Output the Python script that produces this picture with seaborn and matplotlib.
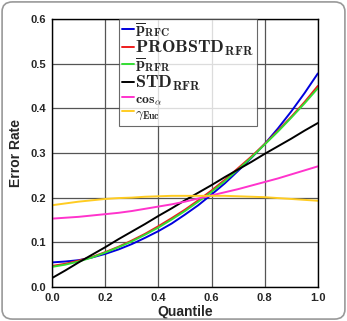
import numpy as np
import pandas as pd
import matplotlib
matplotlib.use("Agg")
import matplotlib.pyplot as plt
import seaborn as sns
from matplotlib.patches import FancyBboxPatch

quantile = [0.0, 0.05, 0.1, 0.15, 0.2, 0.25, 0.3, 0.35, 0.4, 0.45, 0.5,
            0.55, 0.6, 0.65, 0.7, 0.75, 0.8, 0.85, 0.9, 0.95, 1.0]
p_rfc = [0.055, 0.057, 0.060, 0.066, 0.074, 0.084, 0.096, 0.110, 0.125, 0.142, 0.162,
         0.183, 0.207, 0.232, 0.260, 0.289, 0.320, 0.355, 0.393, 0.434, 0.478]
probstd_rfr = [0.047, 0.052, 0.059, 0.067, 0.078, 0.090, 0.104, 0.119, 0.136, 0.154, 0.173,
               0.194, 0.216, 0.240, 0.266, 0.292, 0.320, 0.350, 0.381, 0.414, 0.450]
p_rfr = [0.045, 0.050, 0.057, 0.066, 0.077, 0.089, 0.102, 0.117, 0.133, 0.151, 0.170,
         0.191, 0.213, 0.237, 0.263, 0.290, 0.319, 0.348, 0.379, 0.411, 0.445]
std_rfr = [0.020, 0.037, 0.055, 0.072, 0.089, 0.107, 0.124, 0.141, 0.159, 0.176, 0.194,
           0.211, 0.228, 0.246, 0.263, 0.280, 0.298, 0.315, 0.332, 0.350, 0.367]
cos_a = [0.153, 0.155, 0.157, 0.160, 0.163, 0.166, 0.170, 0.175, 0.180, 0.185, 0.191,
         0.198, 0.205, 0.212, 0.219, 0.227, 0.235, 0.243, 0.252, 0.261, 0.270]
gamma_euc = [0.183, 0.187, 0.191, 0.194, 0.197, 0.199, 0.200, 0.202, 0.203, 0.204, 0.204,
             0.204, 0.204, 0.204, 0.203, 0.202, 0.201, 0.199, 0.197, 0.195, 0.193]

labels = [r"$\overline{\mathbf{p}}_{\mathbf{RFC}}$",
          r"$\mathbf{PROBSTD}_{\mathbf{RFR}}$",
          r"$\overline{\mathbf{p}}_{\mathbf{RFR}}$",
          r"$\mathbf{STD}_{\mathbf{RFR}}$",
          r"$\mathbf{cos}_{\alpha}$",
          r"$\gamma_{\mathbf{Euc}}$"]
series = [p_rfc, probstd_rfr, p_rfr, std_rfr, cos_a, gamma_euc]
colors = ["#0000dd", "#ee1c1c", "#33dd33", "#000000", "#ff33cc", "#ffcc22"]

rows = []
for lab, vals in zip(labels, series):
    for q, v in zip(quantile, vals):
        rows.append({"Quantile": q, "Error Rate": v, "method": lab})
df = pd.DataFrame(rows)

sns.set_style("white")
plt.rcParams["font.family"] = ["Liberation Sans", "DejaVu Sans"]
plt.rcParams["mathtext.fontset"] = "cm"

fig = plt.figure(figsize=(3.47, 3.21), dpi=100)
ax = fig.add_axes([0.150, 0.106, 0.766, 0.835])

# rounded frame around the whole figure
fig.patches.append(FancyBboxPatch((0.006, 0.006), 0.988, 0.988,
                                  boxstyle="round,pad=0,rounding_size=0.03",
                                  transform=fig.transFigure, fill=False,
                                  edgecolor="#999999", linewidth=1.2))

sns.lineplot(data=df, x="Quantile", y="Error Rate", hue="method",
             palette=colors, linewidth=1.4, ax=ax)

xt = np.arange(0, 1.01, 0.2)
yt = np.arange(0, 0.61, 0.1)
ax.set_xlim(0, 1)
ax.set_ylim(0, 0.6)
ax.set_xticks(xt)
ax.set_yticks(yt)
ax.set_xticklabels([f"{t:.1f}" for t in xt], fontweight="bold", fontsize=8)
ax.set_yticklabels([f"{t:.1f}" for t in yt], fontweight="bold", fontsize=8)
ax.grid(True, color="#555555", linewidth=0.9)
ax.tick_params(length=0, pad=4)
for s in ax.spines.values():
    s.set_color("black")
    s.set_linewidth(1.0)
ax.set_xlabel("Quantile", fontweight="bold", fontsize=10, labelpad=2)
ax.set_ylabel("Error Rate", fontweight="bold", fontsize=10, labelpad=6)

leg = ax.legend(loc="upper left", bbox_to_anchor=(0.25, 1.0), fontsize=12,
                frameon=True, fancybox=False, edgecolor="#444444",
                handlelength=0.7, handletextpad=0.1, labelspacing=-0.08,
                borderpad=0.2, borderaxespad=0)
leg.get_frame().set_linewidth(0.8)
for t, fs in zip(leg.get_texts(), [11.5, 13, 11.5, 13, 10, 10]):
    t.set_fontsize(fs)
for h in leg.get_lines():
    h.set_linewidth(1.4)

fig.savefig("out.png", dpi=100)
